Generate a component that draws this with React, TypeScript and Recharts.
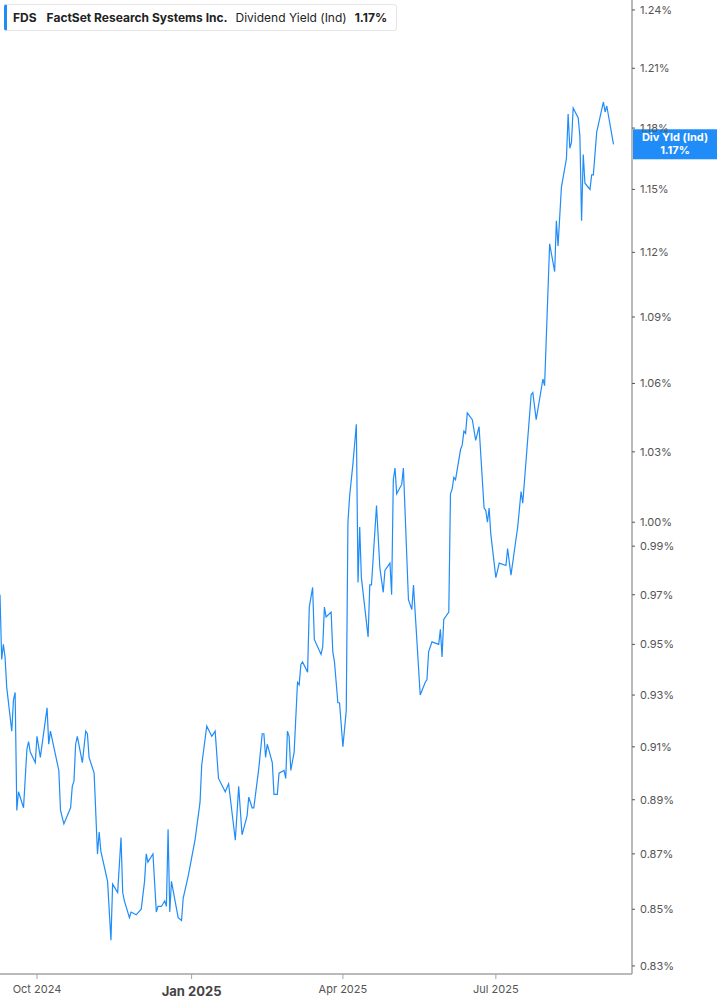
import React from 'react';
import { ComposedChart, Line, XAxis, YAxis, ReferenceLine } from 'recharts';

const dates = [
  '2024-09-09', '2024-09-10', '2024-09-11', '2024-09-12', '2024-09-13', '2024-09-16', '2024-09-17', '2024-09-18',
  '2024-09-19', '2024-09-20', '2024-09-23', '2024-09-25', '2024-09-26', '2024-09-27', '2024-09-30', '2024-10-01',
  '2024-10-03', '2024-10-07', '2024-10-08', '2024-10-09', '2024-10-11', '2024-10-14', '2024-10-15', '2024-10-17',
  '2024-10-21', '2024-10-22', '2024-10-23', '2024-10-24', '2024-10-25', '2024-10-28', '2024-10-30', '2024-10-31',
  '2024-11-01', '2024-11-04', '2024-11-06', '2024-11-07', '2024-11-08', '2024-11-12', '2024-11-14', '2024-11-15',
  '2024-11-18', '2024-11-20', '2024-11-21', '2024-11-22', '2024-11-25', '2024-11-26', '2024-11-29', '2024-12-02',
  '2024-12-04', '2024-12-05', '2024-12-06', '2024-12-09', '2024-12-11', '2024-12-12', '2024-12-14', '2024-12-16',
  '2024-12-17', '2024-12-18', '2024-12-19', '2024-12-20', '2024-12-24', '2024-12-26', '2024-12-27', '2024-12-30',
  '2025-01-03', '2025-01-06', '2025-01-07', '2025-01-10', '2025-01-13', '2025-01-15', '2025-01-17', '2025-01-21',
  '2025-01-23', '2025-01-27', '2025-01-29', '2025-01-31', '2025-02-03', '2025-02-04', '2025-02-06', '2025-02-07',
  '2025-02-10', '2025-02-12', '2025-02-13', '2025-02-14', '2025-02-15', '2025-02-18', '2025-02-19', '2025-02-21',
  '2025-02-22', '2025-02-25', '2025-02-26', '2025-02-27', '2025-02-28', '2025-03-01', '2025-03-03', '2025-03-05',
  '2025-03-06', '2025-03-07', '2025-03-08', '2025-03-11', '2025-03-12', '2025-03-14', '2025-03-15', '2025-03-19',
  '2025-03-20', '2025-03-21', '2025-03-22', '2025-03-25', '2025-03-26', '2025-03-27', '2025-03-29', '2025-03-30',
  '2025-04-01', '2025-04-03', '2025-04-04', '2025-04-05', '2025-04-07', '2025-04-09', '2025-04-10', '2025-04-11',
  '2025-04-12', '2025-04-16', '2025-04-17', '2025-04-18', '2025-04-21', '2025-04-23', '2025-04-25', '2025-04-26',
  '2025-04-29', '2025-04-30', '2025-05-01', '2025-05-02', '2025-05-03', '2025-05-06', '2025-05-07', '2025-05-10',
  '2025-05-12', '2025-05-13', '2025-05-17', '2025-05-20', '2025-05-21', '2025-05-22', '2025-05-24', '2025-05-28',
  '2025-05-29', '2025-05-30', '2025-05-31', '2025-06-03', '2025-06-04', '2025-06-05', '2025-06-06', '2025-06-07',
  '2025-06-10', '2025-06-11', '2025-06-12', '2025-06-13', '2025-06-14', '2025-06-17', '2025-06-19', '2025-06-21',
  '2025-06-24', '2025-06-25', '2025-06-26', '2025-06-27', '2025-06-28', '2025-07-01', '2025-07-03', '2025-07-07',
  '2025-07-08', '2025-07-10', '2025-07-12', '2025-07-14', '2025-07-16', '2025-07-17', '2025-07-22', '2025-07-23',
  '2025-07-25', '2025-07-29', '2025-07-30', '2025-08-02', '2025-08-05', '2025-08-06', '2025-08-07', '2025-08-09',
  '2025-08-12', '2025-08-13', '2025-08-14', '2025-08-15', '2025-08-16', '2025-08-19', '2025-08-20', '2025-08-21',
  '2025-08-22', '2025-08-23', '2025-08-26', '2025-08-27', '2025-08-28', '2025-08-30', '2025-09-03', '2025-09-04',
  '2025-09-05', '2025-09-09',
];

// dividend yield (%)
const yields = [
  0.970, 0.944, 0.950, 0.945, 0.933, 0.916, 0.928, 0.931,
  0.886, 0.893, 0.887, 0.909, 0.912, 0.908, 0.904, 0.914,
  0.906, 0.925, 0.911, 0.916, 0.910, 0.901, 0.886, 0.881,
  0.887, 0.895, 0.897, 0.911, 0.914, 0.904, 0.916, 0.915,
  0.906, 0.900, 0.870, 0.878, 0.871, 0.860, 0.839, 0.859,
  0.856, 0.876, 0.856, 0.853, 0.847, 0.849, 0.848, 0.850,
  0.860, 0.870, 0.867, 0.870, 0.849, 0.851, 0.851, 0.853,
  0.851, 0.879, 0.849, 0.860, 0.847, 0.846, 0.854, 0.862,
  0.875, 0.889, 0.903, 0.918, 0.914, 0.916, 0.898, 0.893,
  0.896, 0.875, 0.895, 0.877, 0.884, 0.891, 0.887, 0.887,
  0.902, 0.915, 0.915, 0.906, 0.911, 0.904, 0.892, 0.892,
  0.900, 0.901, 0.898, 0.916, 0.914, 0.901, 0.908, 0.935,
  0.934, 0.942, 0.943, 0.939, 0.965, 0.973, 0.952, 0.946,
  0.949, 0.965, 0.961, 0.963, 0.947, 0.943, 0.927, 0.927,
  0.910, 0.924, 1.000, 1.011, 1.025, 1.042, 0.975, 0.998,
  0.977, 0.953, 0.974, 0.974, 1.007, 0.981, 0.971, 0.980,
  0.983, 0.970, 1.018, 1.023, 1.012, 1.016, 1.023, 0.968,
  0.964, 0.974, 0.930, 0.935, 0.936, 0.947, 0.951, 0.950,
  0.956, 0.945, 0.960, 0.963, 1.012, 1.014, 1.019, 1.018,
  1.031, 1.033, 1.039, 1.038, 1.047, 1.044, 1.035, 1.041,
  1.006, 1.005, 1.000, 1.006, 0.995, 0.977, 0.983, 0.982,
  0.989, 0.978, 0.988, 0.998, 1.013, 1.008, 1.055, 1.056,
  1.044, 1.062, 1.059, 1.124, 1.111, 1.135, 1.123, 1.151,
  1.165, 1.187, 1.170, 1.173, 1.190, 1.185, 1.176, 1.135,
  1.167, 1.153, 1.150, 1.157, 1.157, 1.178, 1.193, 1.188,
  1.191, 1.172,
];

const yTicks = [0.83, 0.85, 0.87, 0.89, 0.91, 0.93, 0.95, 0.97, 0.99, 1.0, 1.03, 1.06, 1.09, 1.12, 1.15, 1.18, 1.21, 1.24];
const xTickDates = ['2024-10-01', '2025-01-01', '2025-04-01', '2025-07-01'];
const xTickLabels = ['Oct 2024', 'Jan 2025', 'Apr 2025', 'Jul 2025'];

const data = dates.map((d, i) => ({ t: Date.parse(d), v: yields[i] }));
const xTicks = xTickDates.map((d) => Date.parse(d));
const lastValue = yields[yields.length - 1];

const BLUE = '#1f8cf8';
const AXIS = '#a3a3a3';
const FONT = 'Inter, "Noto Sans", sans-serif';

const DateTick = (props: any) => {
  const { x, y, payload } = props;
  const idx = xTicks.indexOf(payload.value);
  const label = idx >= 0 ? xTickLabels[idx] : '';
  const isYear = label.startsWith('Jan');
  return (
    <text
      x={x}
      y={y + (isYear ? 6 : 4)}
      dy="0.71em"
      textAnchor="middle"
      fontFamily={FONT}
      fontSize={isYear ? 13 : 11}
      fontWeight={isYear ? 700 : 400}
      fill={isYear ? '#444' : '#555'}
    >
      {label}
    </text>
  );
};

const ValueTag = (props: any) => {
  const { viewBox } = props;
  if (!viewBox) return null;
  const x = viewBox.x + viewBox.width + 1;
  const y = viewBox.y;
  return (
    <g>
      <rect x={x} y={y - 15} width={85} height={30} fill={BLUE} />
      <text x={x + 42} y={y - 3} textAnchor="middle" fontFamily={FONT} fontSize={11} fontWeight={700} fill="#fff">
        Div Yld (Ind)
      </text>
      <text x={x + 42} y={y + 10} textAnchor="middle" fontFamily={FONT} fontSize={11} fontWeight={700} fill="#fff">
        {lastValue.toFixed(2)}%
      </text>
    </g>
  );
};

export default function App() {
  return (
    <div style={{ position: 'absolute', left: 0, top: 0, width: 717, height: 1005, background: '#fff' }}>
      <ComposedChart width={717} height={1005} data={data} margin={{ top: 0, right: 0, bottom: 0, left: 0 }}>
        <XAxis
          dataKey="t"
          type="number"
          scale="time"
          domain={[Date.parse('2024-09-09'), Date.parse('2025-09-20')]}
          ticks={xTicks}
          interval={0}
          tick={<DateTick />}
          height={31}
          tickSize={5}
          stroke={AXIS}
          axisLine={{ stroke: AXIS, strokeWidth: 1.5 }}
          tickLine={{ stroke: AXIS }}
        />
        <YAxis
          orientation="right"
          scale="log"
          domain={[0.8272, 1.2452]}
          ticks={yTicks}
          interval={0}
          allowDataOverflow
          width={85}
          tickSize={3}
          tickMargin={5}
          axisLine={{ stroke: AXIS, strokeWidth: 1.5 }}
          tickLine={{ stroke: '#555' }}
          tick={{ fontSize: 11, fill: '#555', fontFamily: FONT }}
          tickFormatter={(v: number) => `${v.toFixed(2)}%`}
        />
        <ReferenceLine y={lastValue} stroke="none" ifOverflow="visible" label={<ValueTag />} />
        <Line
          type="linear"
          dataKey="v"
          stroke={BLUE}
          strokeWidth={1.2}
          dot={false}
          activeDot={false}
          isAnimationActive={false}
        />
      </ComposedChart>
      <div
        style={{
          position: 'absolute',
          left: 4,
          top: 4,
          height: 25,
          display: 'flex',
          alignItems: 'center',
          background: '#fff',
          border: '1px solid #e6e6e6',
          borderLeft: `3px solid ${BLUE}`,
          borderRadius: 3,
          padding: '0 9px 0 6px',
          fontFamily: FONT,
          fontSize: 12,
          color: '#222',
          whiteSpace: 'nowrap',
        }}
      >
        <span style={{ fontWeight: 700, marginRight: 10 }}>FDS</span>
        <span style={{ fontWeight: 700, marginRight: 8 }}>FactSet Research Systems Inc.</span>
        <span style={{ marginRight: 8 }}>Dividend Yield (Ind)</span>
        <span style={{ fontWeight: 700 }}>1.17%</span>
      </div>
    </div>
  );
}
